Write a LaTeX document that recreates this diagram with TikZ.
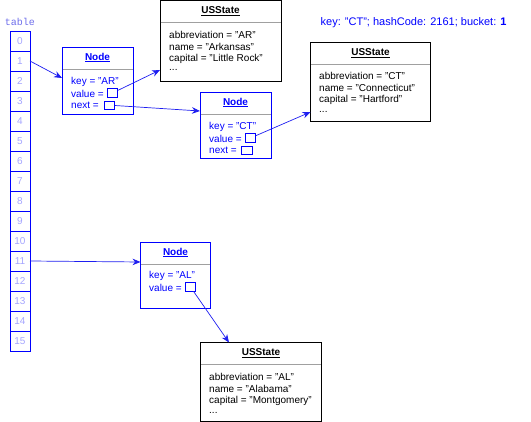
\documentclass[tikz,border=0pt]{standalone}
\usepackage{fontspec}
\setmainfont{Liberation Sans}
\setmonofont{Liberation Mono}
\usetikzlibrary{arrows.meta}
\definecolor{tblnum}{RGB}{165,165,255}
\definecolor{tbllab}{RGB}{110,110,235}
\definecolor{sepgray}{RGB}{160,160,160}
\definecolor{arrblue}{RGB}{30,30,240}
\tikzset{
  cell/.style={draw=blue, line width=0.9pt, minimum width=20pt, minimum height=20pt, inner sep=0pt, outer sep=0pt, text=tblnum, font=\fontsize{10}{12}\selectfont},
  nodebox/.style={draw=blue, line width=0.9pt, anchor=north west, inner sep=0pt, outer sep=0pt},
  objbox/.style={draw=black, line width=0.9pt, anchor=north west, inner sep=0pt, outer sep=0pt},
  sepline/.style={draw=sepgray, line width=0.8pt},
  ntitle/.style={text=blue, font=\fontsize{10}{12}\selectfont\bfseries, inner sep=0pt},
  otitle/.style={text=black, font=\fontsize{10}{12}\selectfont\bfseries, inner sep=0pt},
  nline/.style={text=blue, anchor=west, font=\fontsize{10}{12}\selectfont, inner sep=0pt},
  oline/.style={text=black, anchor=west, font=\fontsize{10}{12}\selectfont, inner sep=0pt},
  ref/.style={draw=blue, line width=0.9pt, inner sep=0pt, outer sep=0pt, minimum width=10.5pt, minimum height=8.5pt},
  arr/.style={draw=arrblue, line width=0.7pt, -{Stealth[length=8pt,width=6.5pt]}}
}
\newcommand{\ul}[1]{\underline{#1}}
\begin{document}
\begin{tikzpicture}[x=1pt,y=-1pt]
\useasboundingbox (0,0) rectangle (531,422);
% table
\node[text=tbllab, font=\ttfamily\fontsize{10}{12}\selectfont, inner sep=0pt] (tlabel) at (20,22) {table};
\foreach \i in {0,...,15} {
  \node[cell] (c\i) at (20,{41+20*\i}) {\i};
}
% Node AR
\node[nodebox, minimum width=71pt, minimum height=67pt] (nar) at (62,47) {};
\draw[sepline] (62.5,69) -- (132.5,69);
\node[ntitle] (nart) at (97.5,57.5) {\ul{Node}};
\node[nline] (nark) at (71,81.5) {key = "AR"};
\node[nline] (narv) at (71,93.5) {value =};
\node[nline] (narn) at (71,105.5) {next =};
\node[ref] (narvb) at (112.5,93) {};
\node[ref] (narnb) at (109.5,105.5) {};
% USState AR
\node[objbox, minimum width=121pt, minimum height=81pt] (uar) at (160,0.5) {};
\draw[sepline] (160.5,22.5) -- (280.5,22.5);
\node[otitle] (uart) at (220.5,11.5) {\ul{USState}};
\node[oline] at (169,34.5) {abbreviation = "AR"};
\node[oline] at (169,46.5) {name = "Arkansas"};
\node[oline] at (169,58.5) {capital = "Little Rock"};
\node[oline] at (169,70) {...};
% Node CT
\node[nodebox, minimum width=71pt, minimum height=66pt] (nct) at (200,92) {};
\draw[sepline] (200.5,114) -- (270.5,114);
\node[ntitle] (nctt) at (235.5,102.5) {\ul{Node}};
\node[nline] at (209,126.5) {key = "CT"};
\node[nline] at (209,138.5) {value =};
\node[nline] at (209,150.5) {next =};
\node[ref] (nctvb) at (250.5,138) {};
\node[ref] (nctnb) at (247,150.5) {};
% USState CT
\node[objbox, minimum width=120pt, minimum height=79pt] (uct) at (310.5,42) {};
\draw[sepline] (311,64) -- (430,64);
\node[otitle] (uctt) at (370.5,53) {\ul{USState}};
\node[oline] at (319,76) {abbreviation = "CT"};
\node[oline] at (319,88) {name = "Connecticut"};
\node[oline] at (319,100) {capital = "Hartford"};
\node[oline] at (319,111.5) {...};
% Node AL
\node[nodebox, minimum width=70pt, minimum height=66pt] (nal) at (140.5,242) {};
\draw[sepline] (141,264) -- (210,264);
\node[ntitle] (nalt) at (175.5,252.5) {\ul{Node}};
\node[nline] at (149,276) {key = "AL"};
\node[nline] at (149,288) {value =};
\node[ref] (nalvb) at (190.5,287) {};
% USState AL
\node[objbox, minimum width=121pt, minimum height=79pt] (ual) at (200.5,342.5) {};
\draw[sepline] (201,364.5) -- (321,364.5);
\node[otitle] (ualt) at (261,353.5) {\ul{USState}};
\node[oline] at (209,377) {abbreviation = "AL"};
\node[oline] at (209,389) {name = "Alabama"};
\node[oline] at (209,401) {capital = "Montgomery"};
\node[oline] at (209,412.5) {...};
% key label
\node[text=blue, anchor=west, font=\fontsize{11}{13}\selectfont, inner sep=0pt] (klabel) at (320.5,23) {key: "CT"; hashCode: 2161; bucket: \textbf{1}};
% arrows
\coordinate (narin) at (62,78);
\coordinate (uarin) at (160,70);
\coordinate (nctin) at (200,111);
\coordinate (uctin) at (310.5,112);
\coordinate (nalin) at (140.5,262);
\coordinate (ualin) at (229,342.5);
\draw[arr] (c1.east) -- (narin);
\draw[arr] (narvb) -- (uarin);
\draw[arr] (narnb.east) -- (nctin);
\draw[arr] (nctvb) -- (uctin);
\draw[arr] (c11.east) -- (nalin);
\draw[arr] (nalvb) -- (ualin);
\end{tikzpicture}
\end{document}
